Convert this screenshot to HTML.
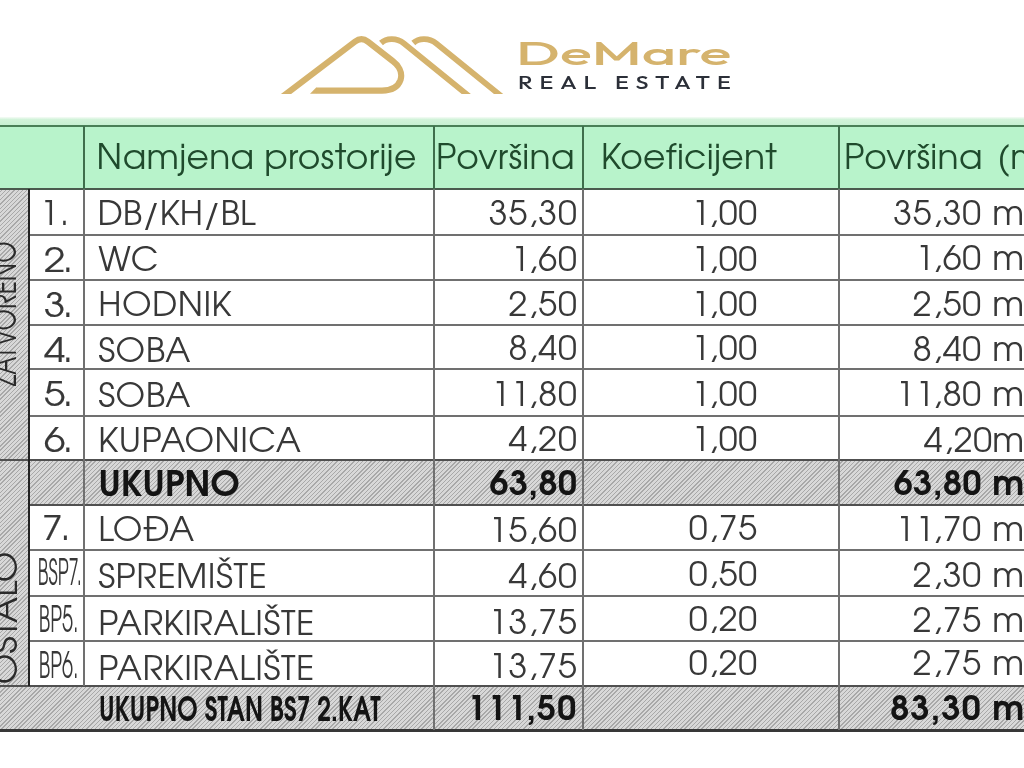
<!DOCTYPE html><html><head><meta charset="utf-8"><title>DeMare</title><style>
*{margin:0;padding:0;box-sizing:border-box}
html,body{width:1024px;height:768px;overflow:hidden;background:#fff}
body{position:relative;font-family:'TeX Gyre Adventor','Century Gothic','URW Gothic','Liberation Sans',sans-serif;color:#383838}
.a{position:absolute;white-space:nowrap}
.t{position:absolute;white-space:nowrap;font-size:34px;line-height:40px;height:40px}
.r{text-align:right}
.b{font-weight:700;color:#141414}
.hl{position:absolute;height:2px;background:#707070}
.vl{position:absolute;width:2px;background:#707070}
.hatch{position:absolute;background-color:#d8d8d8;background-image:repeating-linear-gradient(-45deg,rgba(110,110,110,.45) 0 1px,rgba(255,255,255,0) 1px 3px);background-attachment:fixed}
.green{position:absolute;background:#b8f3cb}
.hd{position:absolute;white-space:nowrap;font-size:34.5px;line-height:40px;color:#1f4a2c;letter-spacing:0.3px}
.vt{position:absolute;font-size:34px;line-height:34px;color:#2a2a2a;transform-origin:50% 50%}
</style></head><body>
<div class="green" style="left:0;top:117px;width:1024px;height:9px;background:linear-gradient(#f6fcf7 0,#d2f3da 2.5px,#c6f0d1 100%)"></div>
<div class="green" style="left:0;top:126px;width:1024px;height:63px"></div>
<div class="hatch" style="left:0;top:189px;width:29px;height:541px"></div>
<div class="hatch" style="left:29px;top:460.2px;width:1000px;height:44.5px"></div>
<div class="hatch" style="left:0;top:685.7px;width:1024px;height:43.9px"></div>
<div class="hl" style="left:0;top:125px;width:1024px;background:#4a7f57"></div>
<div class="hl" style="left:0;top:188px;width:1024px;background:#4a5a4e"></div>
<div class="hl" style="left:29px;top:234.3px;width:1024px;background:#707070"></div>
<div class="hl" style="left:29px;top:279.2px;width:1024px;background:#707070"></div>
<div class="hl" style="left:29px;top:323.6px;width:1024px;background:#707070"></div>
<div class="hl" style="left:29px;top:368.4px;width:1024px;background:#707070"></div>
<div class="hl" style="left:29px;top:414.7px;width:1024px;background:#707070"></div>
<div class="hl" style="left:0px;top:459.2px;width:1024px;background:#505050"></div>
<div class="hl" style="left:29px;top:503.7px;width:1024px;background:#505050"></div>
<div class="hl" style="left:29px;top:549.0px;width:1024px;background:#707070"></div>
<div class="hl" style="left:29px;top:594.7px;width:1024px;background:#707070"></div>
<div class="hl" style="left:29px;top:640.2px;width:1024px;background:#707070"></div>
<div class="hl" style="left:0px;top:684.7px;width:1024px;background:#505050"></div>
<div class="hl" style="left:0;top:728.5px;width:1024px;height:3px;background:#383838"></div>
<div class="vl" style="left:83px;top:126px;height:64px;background:#3f6e4c"></div>
<div class="vl" style="left:83px;top:189px;height:496.7px"></div>
<div class="vl" style="left:432.8px;top:126px;height:64px;background:#3f6e4c"></div>
<div class="vl" style="left:432.8px;top:189px;height:541.0px"></div>
<div class="vl" style="left:582px;top:126px;height:64px;background:#3f6e4c"></div>
<div class="vl" style="left:582px;top:189px;height:541.0px"></div>
<div class="vl" style="left:837.8px;top:126px;height:64px;background:#3f6e4c"></div>
<div class="vl" style="left:837.8px;top:189px;height:541.0px"></div>
<div class="vl" style="left:27.8px;top:189px;height:496.7px;background:#222"></div>
<div class="hd" style="left:96.5px;top:140px">Namjena prostorije</div>
<div class="hd" style="left:436px;top:140px">Površina</div>
<div class="hd" style="left:601px;top:140px">Koeficijent</div>
<div class="hd" style="left:844px;top:140px">Površina<span style="margin-left:4.5px"></span> (m²)</div>
<div class="t" style="left:40px;top:196.2px;letter-spacing:3px">1.</div>
<div class="t" style="left:97.5px;top:196.2px;letter-spacing:0px">DB/KH/BL</div>
<div class="t r" style="left:300px;width:277.6px;top:195.9px;letter-spacing:0.8px;">35,30</div>
<div class="t r" style="left:600px;width:158px;top:196.2px;letter-spacing:0.8px;">1,00</div>
<div class="t r" style="left:850px;width:132px;top:196.2px;letter-spacing:0.8px;">35,30</div>
<div class="t" style="left:992.2px;top:196.2px">m²</div>
<div class="t" style="left:43.6px;top:242.6px;transform:scaleX(1.13);transform-origin:0 0;letter-spacing:-2.4px;-webkit-text-stroke:0.2px #383838">2.</div>
<div class="t" style="left:98.2px;top:242.2px;letter-spacing:0.5px">WC</div>
<div class="t r" style="left:300px;width:277.6px;top:241.7px;letter-spacing:0.8px;">1,60</div>
<div class="t r" style="left:600px;width:158px;top:241.5px;letter-spacing:0.8px;">1,00</div>
<div class="t r" style="left:850px;width:132px;top:241.2px;letter-spacing:0.8px;">1,60</div>
<div class="t" style="left:992.2px;top:241.2px">m²</div>
<div class="t" style="left:43.6px;top:287.6px;transform:scaleX(1.13);transform-origin:0 0;letter-spacing:-2.4px;-webkit-text-stroke:0.2px #383838">3.</div>
<div class="t" style="left:98.2px;top:287.2px;letter-spacing:0.5px">HODNIK</div>
<div class="t r" style="left:300px;width:277.6px;top:286.5px;letter-spacing:0.8px;">2,50</div>
<div class="t r" style="left:600px;width:158px;top:286.5px;letter-spacing:0.8px;">1,00</div>
<div class="t r" style="left:850px;width:132px;top:286.9px;letter-spacing:0.8px;">2,50</div>
<div class="t" style="left:992.2px;top:286.9px">m²</div>
<div class="t" style="left:43.6px;top:332.6px;transform:scaleX(1.13);transform-origin:0 0;letter-spacing:-2.4px;-webkit-text-stroke:0.2px #383838">4.</div>
<div class="t" style="left:98.2px;top:333.3px;letter-spacing:0.5px">SOBA</div>
<div class="t r" style="left:300px;width:277.6px;top:330.9px;letter-spacing:0.8px;">8,40</div>
<div class="t r" style="left:600px;width:158px;top:330.9px;letter-spacing:0.8px;">1,00</div>
<div class="t r" style="left:850px;width:132px;top:331.5px;letter-spacing:0.8px;">8,40</div>
<div class="t" style="left:992.2px;top:331.5px">m²</div>
<div class="t" style="left:43.6px;top:377.2px;transform:scaleX(1.13);transform-origin:0 0;letter-spacing:-2.4px;-webkit-text-stroke:0.2px #383838">5.</div>
<div class="t" style="left:98.2px;top:377.8px;letter-spacing:0.5px">SOBA</div>
<div class="t r" style="left:300px;width:277.6px;top:377.3px;letter-spacing:0.8px;">11,80</div>
<div class="t r" style="left:600px;width:158px;top:377.3px;letter-spacing:0.8px;">1,00</div>
<div class="t r" style="left:850px;width:132px;top:377.2px;letter-spacing:0.8px;">11,80</div>
<div class="t" style="left:992.2px;top:377.2px">m²</div>
<div class="t" style="left:43.6px;top:423.0px;transform:scaleX(1.13);transform-origin:0 0;letter-spacing:-2.4px;-webkit-text-stroke:0.2px #383838">6.</div>
<div class="t" style="left:98.2px;top:422.6px;letter-spacing:0.5px">KUPAONICA</div>
<div class="t r" style="left:300px;width:277.6px;top:422.2px;letter-spacing:0.8px;">4,20</div>
<div class="t r" style="left:600px;width:158px;top:422.2px;letter-spacing:0.8px;">1,00</div>
<div class="t r" style="left:850px;width:143px;top:423.0px;letter-spacing:0.8px;">4,20</div>
<div class="t" style="left:992.2px;top:423.0px">m²</div>
<div class="t b" style="left:98.5px;top:465.9px;font-size:35px">UKUPNO</div>
<div class="t r b" style="left:300px;width:277.6px;top:466.1px;letter-spacing:0.5px;">63,80</div>
<div class="t r b" style="left:850px;width:132px;top:466.4px;letter-spacing:0.5px;">63,80</div>
<div class="t b" style="left:992.2px;top:466.4px">m²</div>
<div class="t" style="left:42px;top:511.0px;transform:scaleX(1.1);transform-origin:0 0;letter-spacing:1.6px;-webkit-text-stroke:0.2px #383838">7.</div>
<div class="t" style="left:98.2px;top:512.2px;letter-spacing:0.5px">LOĐA</div>
<div class="t r" style="left:300px;width:277.6px;top:513.3px;letter-spacing:0.8px;">15,60</div>
<div class="t r" style="left:600px;width:158px;top:510.7px;letter-spacing:0.8px;">0,75</div>
<div class="t r" style="left:850px;width:132px;top:511.9px;letter-spacing:0.8px;">11,70</div>
<div class="t" style="left:992.2px;top:511.9px">m²</div>
<div class="t" style="left:18.5px;width:77.4px;text-align:center;top:555.4px;transform:scaleX(0.515);transform-origin:50% 0;font-size:36px">BSP7.</div>
<div class="t" style="left:98.2px;top:559.0px;letter-spacing:0.5px">SPREMIŠTE</div>
<div class="t r" style="left:300px;width:277.6px;top:558.8px;letter-spacing:0.8px;">4,60</div>
<div class="t r" style="left:600px;width:158px;top:557.2px;letter-spacing:0.8px;">0,50</div>
<div class="t r" style="left:850px;width:132px;top:557.6px;letter-spacing:0.8px;">2,30</div>
<div class="t" style="left:992.2px;top:557.6px">m²</div>
<div class="t" style="left:20px;width:77.4px;text-align:center;top:601.8px;transform:scaleX(0.553);transform-origin:50% 0;font-size:36px">BP5.</div>
<div class="t" style="left:98.2px;top:606.1px;letter-spacing:0.5px">PARKIRALIŠTE</div>
<div class="t r" style="left:300px;width:277.6px;top:605.2px;letter-spacing:0.8px;">13,75</div>
<div class="t r" style="left:600px;width:158px;top:601.9px;letter-spacing:0.8px;">0,20</div>
<div class="t r" style="left:850px;width:132px;top:602.6px;letter-spacing:0.8px;">2,75</div>
<div class="t" style="left:992.2px;top:602.6px">m²</div>
<div class="t" style="left:20px;width:77.4px;text-align:center;top:647.5px;transform:scaleX(0.553);transform-origin:50% 0;font-size:36px">BP6.</div>
<div class="t" style="left:98.2px;top:650.7px;letter-spacing:0.5px">PARKIRALIŠTE</div>
<div class="t r" style="left:300px;width:277.6px;top:649.0px;letter-spacing:0.8px;">13,75</div>
<div class="t r" style="left:600px;width:158px;top:646.3px;letter-spacing:0.8px;">0,20</div>
<div class="t r" style="left:850px;width:132px;top:646.2px;letter-spacing:0.8px;">2,75</div>
<div class="t" style="left:992.2px;top:646.2px">m²</div>
<div class="t b" style="left:99px;top:691.9px;transform:scaleX(0.72);transform-origin:0 0">UKUPNO STAN BS7 2.KAT</div>
<div class="t r b" style="left:300px;width:277.6px;top:690.7px;letter-spacing:1.2px;">111,50</div>
<div class="t r b" style="left:850px;width:132px;top:691.4px;letter-spacing:1.2px;">83,30</div>
<div class="t b" style="left:992.2px;top:691.4px">m²</div>
<div class="a" style="left:0;top:0;width:28px;height:730px;overflow:hidden"><div class="a vt" style="left:7px;top:314px;transform:translate(-50%,-50%) rotate(-90deg) scaleX(0.72)">ZATVORENO</div><div class="a vt" style="left:8px;top:618px;transform:translate(-50%,-50%) rotate(-90deg) scaleX(1.035)">OSTALO</div></div>
<svg class="a" style="left:0;top:0" width="1024" height="110" viewBox="0 0 1024 110">
<defs><clipPath id="cb"><rect x="0" y="0" width="1024" height="93.9"/></clipPath></defs>
<g fill="none" stroke="#d5b36d" stroke-width="6.2" stroke-linejoin="round" clip-path="url(#cb)">
<path d="M280.5 98.2 L355 41.6 Q361.5 36.7 368 41.7 L393 61.3 C398 65 403 72 400.5 80 C398 87 391 90.6 382 90.6 L316 90.6"/>
<path d="M381 43 C386 38.5 396 37 404 43.5 L470 97" stroke-width="5.8"/>
<path d="M413.3 43 C418.3 38.5 428.3 37 436.3 43.5 L502.3 97" stroke-width="5.8"/>
</g>
<polygon points="316.2,87.5 316.2,93.7 310,93.7" fill="#d5b36d"/>
</svg>
<div class="a" style="left:516px;top:33px;font-family:'Outfit','Liberation Sans',sans-serif;font-weight:500;font-size:33px;line-height:40px;color:#d5b36d;transform:scaleX(1.8);transform-origin:0 0">DeMare</div>
<div class="a" style="left:518px;top:73.3px;font-family:'Outfit','Liberation Sans',sans-serif;font-weight:500;font-size:17.4px;line-height:20px;color:#2b2f38;letter-spacing:5.2px;transform:scaleX(1.35);transform-origin:0 0">REAL ESTATE</div>
</body></html>
